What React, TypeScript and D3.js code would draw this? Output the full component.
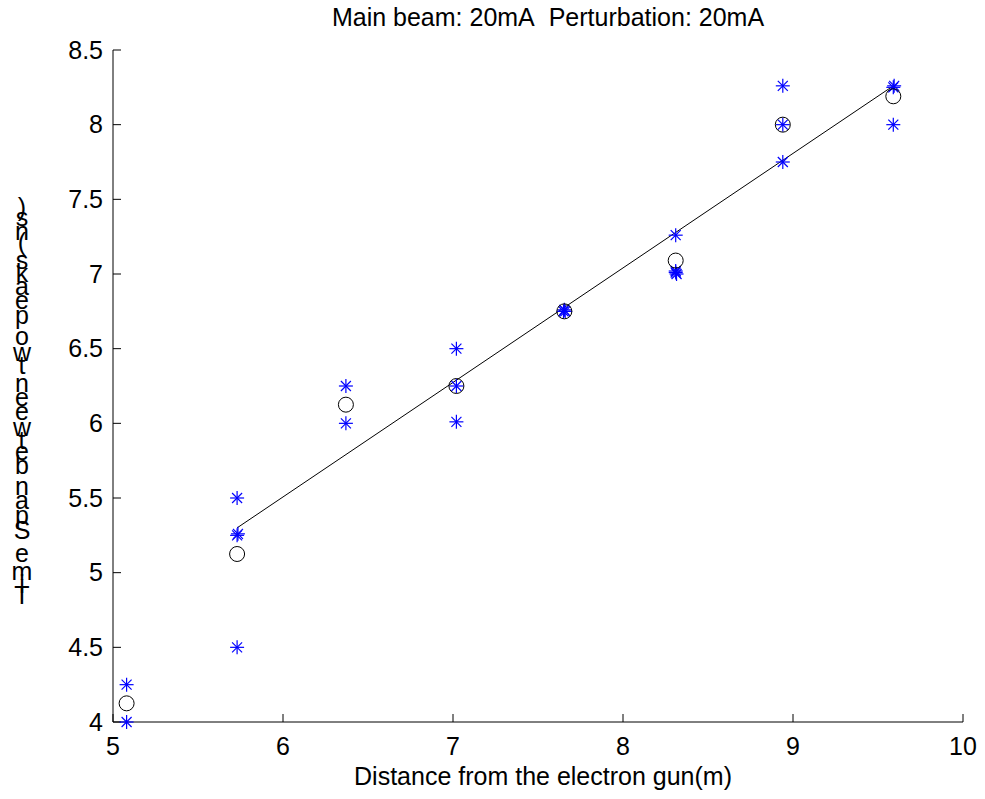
import React from "react";
import * as d3 from "d3";

const title = "Main beam: 20mA\u00a0\u00a0Perturbation: 20mA";
const xLabel = "Distance from the electron gun(m)";
const yLabel = "Time Span between two peaks (ns)";

const xTicks = [5, 6, 7, 8, 9, 10];
const yTicks = [4, 4.5, 5, 5.5, 6, 6.5, 7, 7.5, 8, 8.5];

// measured samples (stars)
const starX = [
  5.08, 5.08,
  5.73, 5.73, 5.735, 5.73,
  6.37, 6.37,
  7.02, 7.02, 7.02,
  7.65, 7.655, 7.66,
  8.31, 8.31, 8.315, 8.31,
  8.94, 8.94, 8.94,
  9.59, 9.595, 9.59,
];
const starY = [
  4.25, 4.0,
  5.5, 5.25, 5.26, 4.5,
  6.25, 6.0,
  6.5, 6.25, 6.01,
  6.75, 6.76, 6.75,
  7.26, 7.01, 7.0, 7.02,
  8.26, 8.0, 7.75,
  8.25, 8.26, 8.0,
];

// means (circles)
const meanX = [5.08, 5.73, 6.37, 7.02, 7.655, 8.31, 8.94, 9.59];
const meanY = [4.125, 5.125, 6.125, 6.25, 6.75, 7.09, 8.0, 8.19];

// linear fit endpoints
const fitX = [5.73, 9.59];
const fitY = [5.3, 8.26];

const W = 985;
const H = 799;
const left = 113;
const right = 963;
const top = 50;
const bottom = 722;

const FONT = "'Liberation Sans', Arial, sans-serif";
const FS = 25;

export default function App() {
  const x = d3.scaleLinear().domain([5, 10]).range([left, right]);
  const y = d3.scaleLinear().domain([4, 8.5]).range([bottom, top]);
  const line = d3
    .line<number>()
    .x((_, i) => x(fitX[i]))
    .y((d) => y(d));

  // y label: characters stacked (unrotated), bottom-up
  const chars = yLabel.split("");
  let widths: number[] = chars.map(() => 10);
  try {
    const c = document.createElement("canvas").getContext("2d");
    if (c) {
      c.font = `20px ${FONT}`;
      widths = chars.map((ch) => c.measureText(ch).width);
    }
  } catch (e) {}
  const total = widths.reduce((a, b) => a + b, 0) - widths[0] / 2 - widths[widths.length - 1] / 2;
  const startY = 595;
  const endY = 207;
  const k = (startY - endY) / total;
  const charPos: number[] = [];
  let acc = 0;
  chars.forEach((_, i) => {
    if (i > 0) acc += (widths[i - 1] + widths[i]) / 2;
    charPos.push(startY - acc * k);
  });

  const s = 7;
  const sd = 5;

  return (
    <svg
      width={W}
      height={H}
      style={{ position: "absolute", left: 0, top: 0, background: "#fff" }}
      fontFamily={FONT}
    >
      <rect width={W} height={H} fill="#fff" />
      {/* axes */}
      <line x1={left} x2={left} y1={top} y2={bottom} stroke="#000" strokeWidth={1} />
      <line x1={left} x2={right} y1={bottom} y2={bottom} stroke="#000" strokeWidth={1} />
      {yTicks.map((t) => (
        <g key={"y" + t}>
          <line x1={left} x2={left + 8} y1={y(t)} y2={y(t)} stroke="#000" />
          <text x={left - 10} y={y(t)} dy="0.35em" textAnchor="end" fontSize={FS} fill="#000">
            {t}
          </text>
        </g>
      ))}
      {xTicks.map((t) => (
        <g key={"x" + t}>
          <line x1={x(t)} x2={x(t)} y1={bottom} y2={bottom - 8} stroke="#000" />
          <text x={x(t)} y={bottom + 24} dy="0.35em" textAnchor="middle" fontSize={FS} fill="#000">
            {t}
          </text>
        </g>
      ))}
      {/* fit line */}
      <path d={line(fitY) || ""} fill="none" stroke="#000" strokeWidth={1} />
      {/* stars */}
      {starX.map((vx, i) => {
        const cx = x(vx);
        const cy = y(starY[i]);
        return (
          <g key={"s" + i} stroke="#0000ff" strokeWidth={1.2}>
            <line x1={cx - s} x2={cx + s} y1={cy} y2={cy} />
            <line x1={cx} x2={cx} y1={cy - s} y2={cy + s} />
            <line x1={cx - sd} x2={cx + sd} y1={cy - sd} y2={cy + sd} />
            <line x1={cx - sd} x2={cx + sd} y1={cy + sd} y2={cy - sd} />
          </g>
        );
      })}
      {/* means */}
      {meanX.map((vx, i) => (
        <circle key={"m" + i} cx={x(vx)} cy={y(meanY[i])} r={7.5} fill="none" stroke="#000" strokeWidth={1} />
      ))}
      {/* title & labels */}
      <text x={548} y={17} dy="0.35em" textAnchor="middle" fontSize={FS} fill="#000">
        {title}
      </text>
      <text x={543} y={776} dy="0.35em" textAnchor="middle" fontSize={FS} fill="#000">
        {xLabel}
      </text>
      <text fontSize={FS} fill="#000" textAnchor="middle">
        {chars.map((ch, i) => (
          <tspan key={"c" + i} x={22} y={charPos[i]} dy="0.35em">
            {ch === " " ? "\u00a0" : ch}
          </tspan>
        ))}
      </text>
    </svg>
  );
}
